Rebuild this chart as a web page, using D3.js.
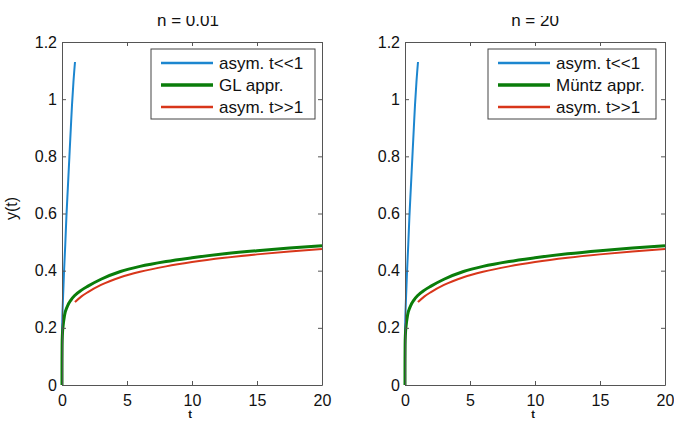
<!DOCTYPE html>
<html>
<head>
<meta charset="utf-8">
<script src="https://cdn.jsdelivr.net/npm/d3@7"></script>
<style>
    body { margin: 0; background: white; }
    text { font-family: "Liberation Sans", Arial, sans-serif; fill: #111; }
    .axis path, .axis line { stroke: #555; }
</style>
</head>
<body>
<div id="chart"></div>
<script>

    // panel titles and legend labels
    var titles = ['n = 0.01', 'n = 20'];
    var approxNames = ['GL appr.', 'Müntz appr.'];
    var seriesNames = ['asym. t<<1', null, 'asym. t>>1'];

    var xTicks = [0, 5, 10, 15, 20];
    var yTicks = [0, 0.2, 0.4, 0.6, 0.8, 1, 1.2];

    // asymptotic expansion for small t
    var smallT = [0, 0.005, 0.02, 0.05, 0.1, 0.15, 0.25, 0.34, 0.45, 0.57, 0.68, 0.77, 0.88, 1.0];
    var smallY = [0.12, 0.17, 0.22, 0.27, 0.33, 0.39, 0.49, 0.59, 0.69, 0.8, 0.9, 0.98, 1.06, 1.13];

    // numerical approximation (same shape in both panels)
    var approxT = [0, 0.001, 0.004, 0.01, 0.03, 0.08, 0.2, 0.4, 0.7, 1, 1.5, 2, 3, 4.5, 6, 8, 10, 12.5, 15, 17.5, 20];
    var approxY = [0, 0.06, 0.1, 0.14, 0.175, 0.205, 0.245, 0.274, 0.298, 0.314, 0.332, 0.346, 0.37, 0.397, 0.415, 0.432, 0.445, 0.459, 0.47, 0.479, 0.487];

    // asymptotic expansion for large t
    var largeT = [1, 1.5, 2, 3, 4.5, 6, 8, 10, 12.5, 15, 17.5, 20];
    var largeY = [0.29, 0.31, 0.325, 0.35, 0.377, 0.396, 0.415, 0.43, 0.445, 0.457, 0.467, 0.476];

    var colors = ['#1c86cf', '#0a7d0a', '#d8361a'];
    var widths = [2, 3, 2];

    var svg = d3.select('#chart').append('svg')
        .attr('width', 674)
        .attr('height', 426);

    // title gets clipped at the top like the original
    svg.append('defs').append('clipPath')
        .attr('id', 'topclip')
        .append('rect')
        .attr('x', 0).attr('y', 16).attr('width', 674).attr('height', 410);

    var panelLeft = [62, 405];
    var panelWidth = 260;
    var plotTop = 42, plotBottom = 385;

    function zip(ts, ys) {
        return ts.map(function(t, i) { return [t, ys[i]]; });
    }

    panelLeft.forEach(function(left, p) {

        var w = panelWidth, h = plotBottom - plotTop;
        var xScale = d3.scaleLinear().domain([0, 20]).range([0, w]);
        var yScale = d3.scaleLinear().domain([0, 1.2]).range([h, 0]);

        var g = svg.append('g')
            .attr('transform', 'translate(' + left + ',' + plotTop + ')');

        var line = d3.line()
            .curve(d3.curveMonotoneX)
            .x(function(d) { return xScale(d[0]); })
            .y(function(d) { return yScale(d[1]); });

        var data = [zip(smallT, smallY), zip(approxT, approxY), zip(largeT, largeY)];
        var order = [0, 2, 1];
        order.forEach(function(i) {
            g.append('path')
                .datum(data[i])
                .attr('fill', 'none')
                .attr('stroke', colors[i])
                .attr('stroke-width', widths[i])
                .attr('d', line);
        });

        // axes with inward ticks
        var ax = g.append('g').attr('class', 'axis');
        ax.append('g').attr('transform', 'translate(0,' + h + ')')
            .call(d3.axisBottom(xScale).tickValues(xTicks).tickSizeInner(-4).tickSizeOuter(0).tickPadding(10).tickFormat(d3.format('d')));
        ax.append('g')
            .call(d3.axisTop(xScale).tickValues(xTicks).tickSizeInner(-4).tickSizeOuter(0).tickFormat(''));
        ax.append('g')
            .call(d3.axisLeft(yScale).tickValues(yTicks).tickSizeInner(-4).tickSizeOuter(0).tickPadding(5).tickFormat(function(d) { return d3.format('~g')(d); }));
        ax.append('g').attr('transform', 'translate(' + w + ',0)')
            .call(d3.axisRight(yScale).tickValues(yTicks).tickSizeInner(-4).tickSizeOuter(0).tickFormat(''));
        ax.selectAll('text').style('font-size', '16px').attr('fill', '#111');
        ax.selectAll('path').attr('stroke', '#555');
        ax.selectAll('line').attr('stroke', '#555');

        // title
        svg.append('text')
            .attr('clip-path', 'url(#topclip)')
            .attr('x', left + w / 2 - (p === 0 ? 4 : 0))
            .attr('y', 26)
            .attr('text-anchor', 'middle')
            .style('font-size', '17px')
            .text(titles[p]);

        // axis labels
        g.append('text')
            .attr('x', w / 2 - 2)
            .attr('y', h + 33)
            .attr('text-anchor', 'middle')
            .style('font-size', '11px')
            .style('font-weight', 'bold')
            .text('t');

        if (p === 0) {
            g.append('text')
                .attr('transform', 'translate(' + (-45) + ',' + (h / 2 - 5) + ') rotate(-90)')
                .attr('text-anchor', 'middle')
                .style('font-size', '16px')
                .text('y(t)');
        }

        // legend
        var lx = p === 0 ? 89 : 83;
        var lw = p === 0 ? 164 : 168;
        var legend = g.append('g').attr('transform', 'translate(' + lx + ',7)');
        legend.append('rect')
            .attr('width', lw)
            .attr('height', 70)
            .attr('fill', 'white')
            .attr('stroke', '#444')
            .attr('stroke-width', 1);
        var names = [seriesNames[0], approxNames[p], seriesNames[2]];
        names.forEach(function(name, i) {
            var yy = 14 + i * 22;
            legend.append('line')
                .attr('x1', 10).attr('x2', 62)
                .attr('y1', yy).attr('y2', yy)
                .attr('stroke', colors[i])
                .attr('stroke-width', widths[i] + 0.5);
            legend.append('text')
                .attr('x', 68)
                .attr('y', yy + 6)
                .style('font-size', '17px')
                .text(name);
        });
    });

</script>
</body>
</html>
